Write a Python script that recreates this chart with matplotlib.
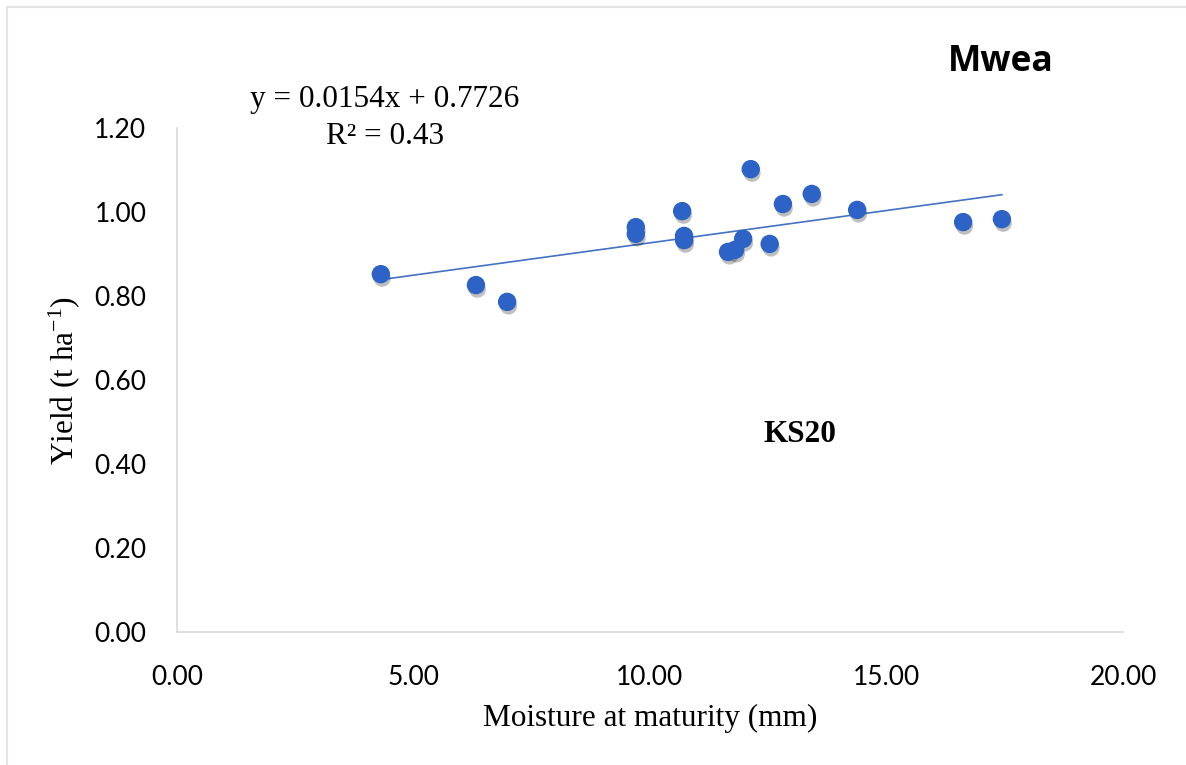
import matplotlib.pyplot as plt
import matplotlib.patheffects as pe
from matplotlib.lines import Line2D
import numpy as np

# Data (Mwea, KS20)
moisture = [4.31, 6.32, 6.98, 9.70, 9.70, 10.68, 10.72, 10.72, 11.65, 11.80,
            11.97, 12.13, 12.53, 12.81, 13.42, 14.38, 16.62, 17.44]
yield_t = [0.852, 0.826, 0.786, 0.964, 0.948, 1.002, 0.943, 0.933, 0.905, 0.910,
           0.936, 1.102, 0.924, 1.019, 1.043, 1.005, 0.976, 0.983]

# trendline coefficients from the chart text
slope = 0.0154
intercept = 0.7726
r2 = 0.43

x_ticks = [0, 5, 10, 15, 20]
y_ticks = [0, 0.2, 0.4, 0.6, 0.8, 1.0, 1.2]

tick_font = "Lato"
serif_font = "Liberation Serif"
grid_grey = "#d9d9d9"

plt.rcParams["mathtext.fontset"] = "custom"
plt.rcParams["mathtext.rm"] = serif_font
plt.rcParams["mathtext.it"] = serif_font + ":italic"

fig = plt.figure(figsize=(11.86, 7.65), dpi=100)
ax = fig.add_axes([177 / 1186, 133 / 765, 946 / 1186, 504 / 765])

ax.scatter(moisture, yield_t, s=150, color="#2d63c6", zorder=3,
           path_effects=[pe.SimplePatchShadow(offset=(1, -3), alpha=0.25, shadow_rgbFace="black"),
                         pe.Normal()])

# linear trendline over the range of the data
xs = np.array([min(moisture), max(moisture)])
ax.plot(xs, slope * xs + intercept, color="#4472c4", lw=1.2, zorder=2)

ax.set_xlim(0, 20)
ax.set_ylim(0, 1.2)
ax.set_xticks(x_ticks)
ax.set_yticks(y_ticks)
ax.set_xticklabels([f"{v:.2f}" for v in x_ticks], fontfamily=tick_font, fontsize=19)
ax.set_yticklabels([f"{v:.2f}" for v in y_ticks], fontfamily=tick_font, fontsize=19)
ax.tick_params(length=0, colors="black")
ax.tick_params(axis="x", pad=24)
ax.tick_params(axis="y", pad=22)

for side in ["top", "right"]:
    ax.spines[side].set_visible(False)
for side in ["left", "bottom"]:
    ax.spines[side].set_color(grid_grey)
    ax.spines[side].set_linewidth(1.2)

ax.set_xlabel("Moisture at maturity (mm)", fontfamily=serif_font, fontsize=22.5, labelpad=10)
ax.set_ylabel(r"Yield (t ha$^{\mathrm{-1}}$)", fontfamily=serif_font, fontsize=22.5, labelpad=9)

# equation and R squared
fig.text(385 / 1186, 1 - 100 / 765, f"y = {slope}x + {intercept}",
         fontfamily=serif_font, fontsize=22.5, ha="center", va="center")
fig.text(385 / 1186, 1 - 136 / 765, f"R² = {r2}",
         fontfamily=serif_font, fontsize=22.5, ha="center", va="center")

fig.text(800 / 1186, 1 - 435 / 765, "KS20", fontfamily=serif_font, fontsize=22.5,
         fontweight="bold", ha="center", va="center")
fig.text(1001 / 1186, 1 - 62 / 765, "Mwea", fontfamily="Open Sans", fontsize=25.5,
         fontweight="bold", ha="center", va="center")

# light frame round the chart area
fig.add_artist(Line2D([7 / 1186, 7 / 1186], [0, 1 - 7 / 765], color="#e3e3e3", lw=1.5))
fig.add_artist(Line2D([7 / 1186, 1], [1 - 7 / 765, 1 - 7 / 765], color="#e3e3e3", lw=1.5))

fig.savefig("out.png", dpi=100)
